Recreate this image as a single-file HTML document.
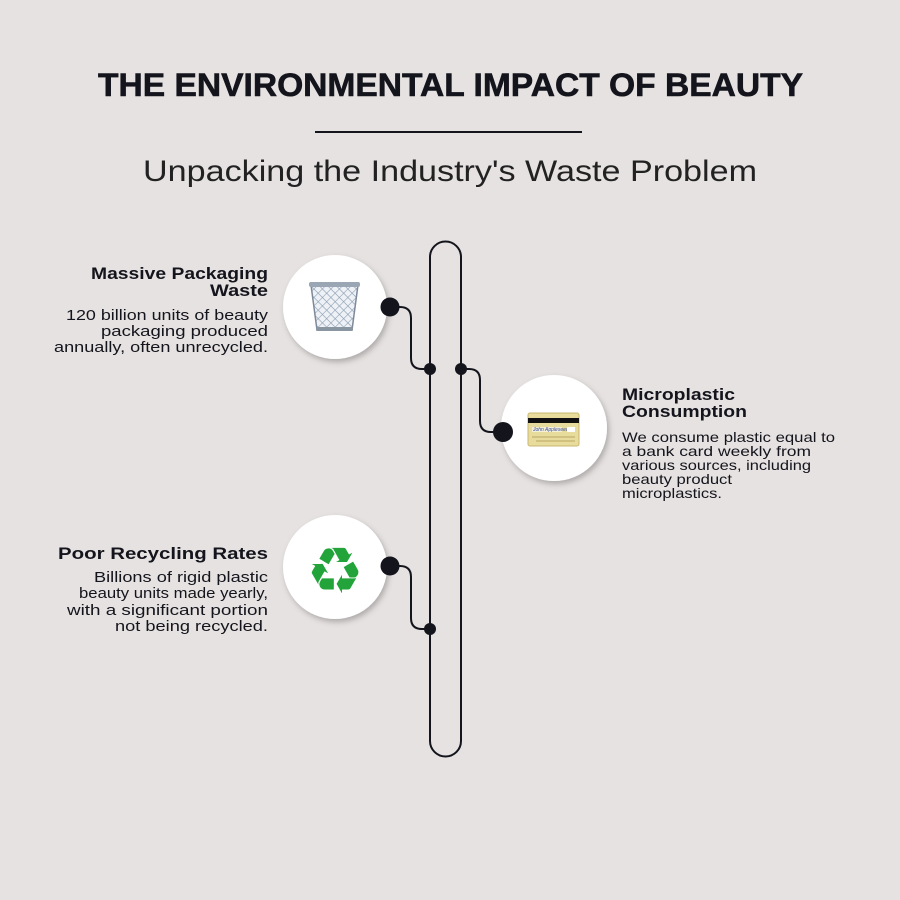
<!DOCTYPE html>
<html><head><meta charset="utf-8"><style>
html,body{margin:0;padding:0;background:#e6e2e1;}
svg{display:block}
text{font-family:"Liberation Sans",sans-serif;fill:#14141c}
</style></head><body>
<svg width="900" height="900" viewBox="0 0 900 900" xmlns="http://www.w3.org/2000/svg">
<defs>
<filter id="sh" x="-30%" y="-30%" width="160%" height="160%"><feDropShadow dx="2" dy="3" stdDeviation="3" flood-color="#000" flood-opacity="0.25"/></filter>
<pattern id="mesh" width="6" height="6" patternUnits="userSpaceOnUse" patternTransform="rotate(45)"><rect width="6" height="6" fill="#eef2f6"/><path d="M0 0H6M0 0V6" stroke="#8a9bb0" stroke-width="1.2"/></pattern>
</defs>
<rect width="900" height="900" fill="#e6e2e1"/>
<text x="98" y="96" font-size="32" font-weight="bold" textLength="705" lengthAdjust="spacingAndGlyphs" stroke="#14141c" stroke-width="0.6">THE ENVIRONMENTAL IMPACT OF BEAUTY</text>
<rect x="315" y="131" width="267" height="2" fill="#14141c"/>
<text x="143" y="181" font-size="30" textLength="614" lengthAdjust="spacingAndGlyphs" style="fill:#222">Unpacking the Industry's Waste Problem</text>

<path d="M430 741 V257 A15.5 15.5 0 0 1 461 257 V741 A15.5 15.5 0 0 1 430 741" fill="none" stroke="#14141c" stroke-width="2"/>

<circle cx="335" cy="307" r="52" fill="#fff" filter="url(#sh)"/>
<circle cx="554" cy="428" r="53" fill="#fff" filter="url(#sh)"/>
<circle cx="335" cy="567" r="52" fill="#fff" filter="url(#sh)"/>

<g fill="none" stroke="#14141c" stroke-width="2">
<path d="M390 307 H400 Q411 307 411 318 V358 Q411 369 422 369 H430"/>
<path d="M461 369 H469 Q480 369 480 380 V421 Q480 432 491 432 H503"/>
<path d="M390 566 H400 Q411 566 411 577 V618 Q411 629 422 629 H430"/>
</g>
<g fill="#14141c">
<circle cx="390" cy="307" r="9.5"/><circle cx="430" cy="369" r="6"/>
<circle cx="461" cy="369" r="6"/><circle cx="503" cy="432" r="10"/>
<circle cx="390" cy="566" r="9.5"/><circle cx="430" cy="629" r="6"/>
</g>

<path d="M311 285 H358 L352 330 H317 Z" fill="url(#mesh)" stroke="#7d8a99" stroke-width="1.5"/>
<rect x="309" y="282" width="51" height="5" rx="2" fill="#9aa6b3"/>
<rect x="316" y="327" width="37" height="4" rx="1.5" fill="#8a95a2"/>

<rect x="528" y="413" width="51" height="33" rx="2" fill="#e8dc9c" stroke="#c9b870"/>
<rect x="528" y="418" width="51" height="5" fill="#111"/>
<rect x="532" y="427" width="30" height="5" fill="#f4f0d8"/>
<text x="533" y="431" font-size="5" style="fill:#3a4fa0;font-style:italic">John Appleseed</text>
<rect x="567" y="427" width="8" height="5" fill="#fff"/>
<path d="M532 437 H575 M536 441 H575" stroke="#c8b878" stroke-width="1.5"/>

<text x="335" y="593" font-size="64" text-anchor="middle" style="fill:#22a43a;font-family:'DejaVu Sans',sans-serif">♻</text>

<g text-anchor="end" font-size="17" font-weight="bold">
<text x="268" y="279" textLength="177" lengthAdjust="spacingAndGlyphs">Massive Packaging</text>
<text x="268" y="296" textLength="58" lengthAdjust="spacingAndGlyphs">Waste</text>
<text x="268" y="559" textLength="210" lengthAdjust="spacingAndGlyphs">Poor Recycling Rates</text>
</g>
<g text-anchor="end" font-size="15" style="fill:#222">
<text x="268" y="320" textLength="202" lengthAdjust="spacingAndGlyphs">120 billion units of beauty</text>
<text x="268" y="336" textLength="167" lengthAdjust="spacingAndGlyphs">packaging produced</text>
<text x="268" y="352" textLength="214" lengthAdjust="spacingAndGlyphs">annually, often unrecycled.</text>
<text x="268" y="582" textLength="174" lengthAdjust="spacingAndGlyphs">Billions of rigid plastic</text>
<text x="268" y="598" textLength="189" lengthAdjust="spacingAndGlyphs">beauty units made yearly,</text>
<text x="268" y="615" textLength="201" lengthAdjust="spacingAndGlyphs">with a significant portion</text>
<text x="268" y="631" textLength="153" lengthAdjust="spacingAndGlyphs">not being recycled.</text>
</g>
<g font-size="17" font-weight="bold">
<text x="622" y="400" textLength="113" lengthAdjust="spacingAndGlyphs">Microplastic</text>
<text x="622" y="417" textLength="125" lengthAdjust="spacingAndGlyphs">Consumption</text>
</g>
<g font-size="14" style="fill:#222">
<text x="622" y="442" textLength="213" lengthAdjust="spacingAndGlyphs">We consume plastic equal to</text>
<text x="622" y="456" textLength="189" lengthAdjust="spacingAndGlyphs">a bank card weekly from</text>
<text x="622" y="470" textLength="189" lengthAdjust="spacingAndGlyphs">various sources, including</text>
<text x="622" y="484" textLength="110" lengthAdjust="spacingAndGlyphs">beauty product</text>
<text x="622" y="498" textLength="100" lengthAdjust="spacingAndGlyphs">microplastics.</text>
</g>
</svg>
</body></html>
